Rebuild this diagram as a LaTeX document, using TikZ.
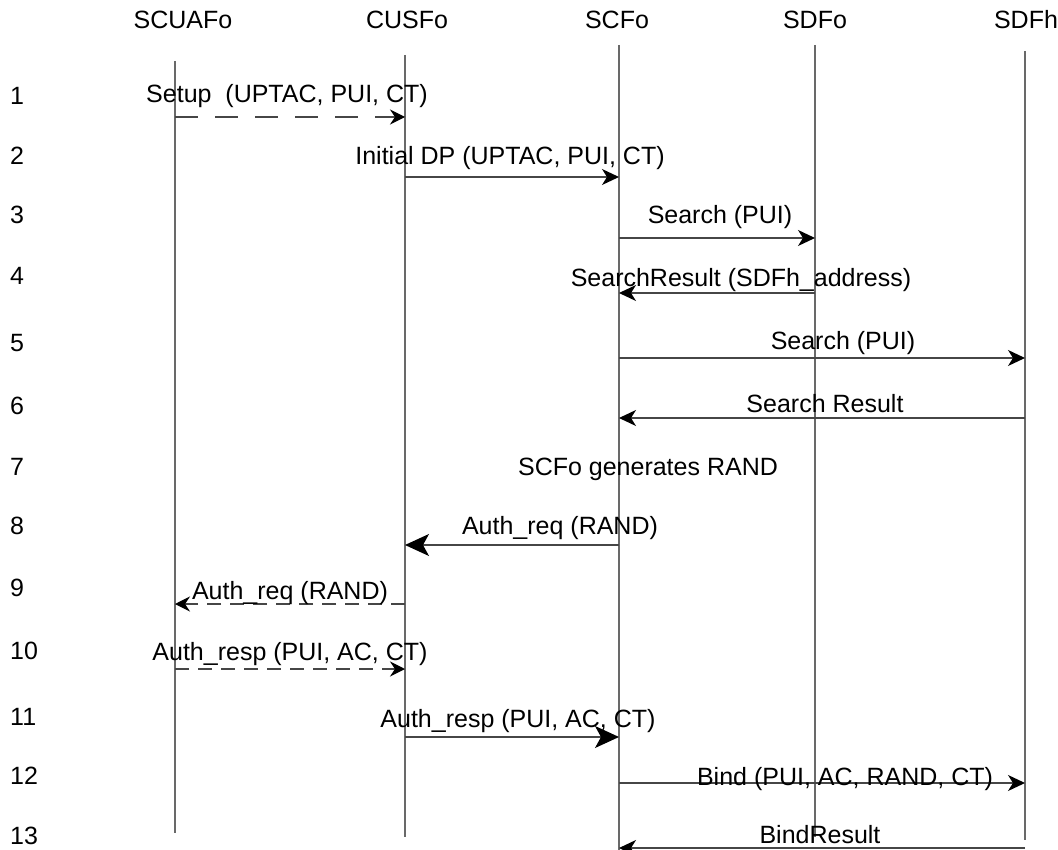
\documentclass[tikz,border=0pt]{standalone}
\usepackage{fontspec}
\setmainfont{Liberation Sans}
\usetikzlibrary{arrows.meta, positioning}
\definecolor{lifegray}{RGB}{105,105,105}
\definecolor{msggray}{RGB}{70,70,70}

\begin{document}
\begin{tikzpicture}[x=1pt, y=-1pt,
  every node/.style={font=\fontsize{25}{28}\selectfont, inner sep=0pt},
  head/.style={anchor=base},
  lbl/.style={anchor=base},
  num/.style={anchor=base west},
  life/.style={lifegray, line width=1.2pt},
  msg/.style={msggray, line width=1.2pt, -{Stealth[length=17pt, width=16pt, inset=5pt, black]}},
  bigmsg/.style={msggray, line width=1.2pt, -{Stealth[length=24pt, width=22pt, inset=6pt, black]}},
  dmsg/.style={msggray, line width=1.2pt, dash pattern=on 23pt off 17pt, -{Stealth[length=15pt, width=15pt, inset=5pt, black]}},
  sdmsg/.style={msggray, line width=1.2pt, dash pattern=on 14pt off 9pt, -{Stealth[length=15pt, width=15pt, inset=5pt, black]}}
]
\useasboundingbox (0,0) rectangle (1058,850);

% entities
\node[head] (scuafo) at (183,29) {SCUAFo};
\node[head] (cusfo) at (407,29) {CUSFo};
\node[head] (scfo) at (617,29) {SCFo};
\node[head] (sdfo) at (815,29) {SDFo};
\node[head] (sdfh) at (1026,29) {SDFh};

% lifelines
\coordinate (scuafoT) at (175,61);  \coordinate (scuafoB) at (175,833);
\coordinate (cusfoT) at (405,55);   \coordinate (cusfoB) at (405,837);
\coordinate (scfoT) at (619,45);    \coordinate (scfoB) at (619,850);
\coordinate (sdfoT) at (815,45);    \coordinate (sdfoB) at (815,837);
\coordinate (sdfhT) at (1025,51);   \coordinate (sdfhB) at (1025,840);
\draw[life] (scuafoT) -- (scuafoB);
\draw[life] (cusfoT) -- (cusfoB);
\draw[life] (scfoT) -- (scfoB);
\draw[life] (sdfoT) -- (sdfoB);
\draw[life] (sdfhT) -- (sdfhB);

% step numbers
\node[num] (n1) at (10,105) {1};
\node[num] (n2) at (10,165) {2};
\node[num] (n3) at (10,224) {3};
\node[num] (n4) at (10,285) {4};
\node[num] (n5) at (10,352) {5};
\node[num] (n6) at (10,414) {6};
\node[num] (n7) at (10,475) {7};
\node[num] (n8) at (10,534) {8};
\node[num] (n9) at (10,596) {9};
\node[num] (n10) at (10,659) {10};
\node[num] (n11) at (10,725) {11};
\node[num] (n12) at (10,784) {12};
\node[num] (n13) at (10,844) {13};

% messages
\draw[dmsg] (scuafoT |- 0,117) -- (cusfoT |- 0,117);
\node[lbl] (m1) at (287,103) {Setup\ \ (UPTAC, PUI, CT)};

\draw[msg] (cusfoT |- 0,177) -- (scfoT |- 0,177);
\node[lbl] (m2) at (510,165) {Initial DP (UPTAC, PUI, CT)};

\draw[msg] (scfoT |- 0,238) -- (sdfoT |- 0,238);
\node[lbl] (m3) at (720,224) {Search (PUI)};

\draw[msg] (sdfoT |- 0,293) -- (scfoT |- 0,293);
\node[lbl] (m4) at (741,287) {SearchResult (SDFh\_address)};

\draw[msg] (scfoT |- 0,358) -- (sdfhT |- 0,358);
\node[lbl] (m5) at (843,350) {Search (PUI)};

\draw[msg] (sdfhT |- 0,418) -- (scfoT |- 0,418);
\node[lbl] (m6) at (825,412) {Search Result};

\node[lbl] (m7) at (648,475) {SCFo generates RAND};

\draw[bigmsg] (scfoT |- 0,545) -- (cusfoT |- 0,545);
\node[lbl] (m8) at (560,534) {Auth\_req (RAND)};

\draw[sdmsg] (cusfoT |- 0,604) -- (scuafoT |- 0,604);
\node[lbl] (m9) at (290,599) {Auth\_req (RAND)};

\draw[sdmsg] (scuafoT |- 0,669) -- (cusfoT |- 0,669);
\node[lbl] (m10) at (290,660) {Auth\_resp (PUI, AC, CT)};

\draw[bigmsg] (cusfoT |- 0,737) -- (scfoT |- 0,737);
\node[lbl] (m11) at (518,727) {Auth\_resp (PUI, AC, CT)};

\draw[msg] (scfoT |- 0,783) -- (sdfhT |- 0,783);
\node[lbl] (m12) at (845,785) {Bind (PUI, AC, RAND, CT)};

\draw[msg] (sdfhT |- 0,848) -- (scfoT |- 0,848);
\node[lbl] (m13) at (820,843) {BindResult};
\end{tikzpicture}
\end{document}
